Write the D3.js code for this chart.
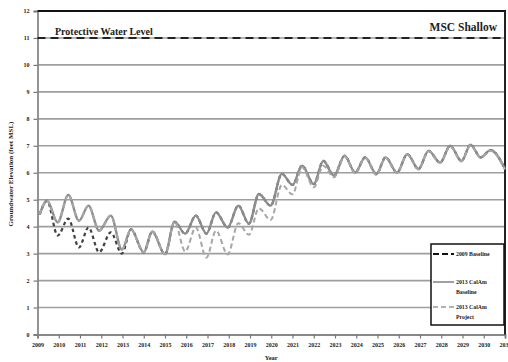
<!DOCTYPE html>
<html>
<head>
<meta charset="utf-8">
<script src="https://cdn.jsdelivr.net/npm/d3@7"></script>
<style>
  body { margin: 0; background: #fff; }
  svg text { font-family: "Liberation Serif", "DejaVu Serif", serif; font-weight: bold; fill: #222; }
</style>
</head>
<body>
<svg id="chart" width="508" height="362"></svg>
<script>
// turning points (year, seasonal high / low)
const years = [
  2009.1, 2009.45, 2009.95, 2010.45, 2010.95, 2011.4, 2011.9, 2012.45, 2012.97, 2013.4,
  2014.0, 2014.4, 2015.0, 2015.45, 2015.95, 2016.45, 2016.95, 2017.4, 2017.95, 2018.45,
  2018.95, 2019.42, 2019.97, 2020.5, 2021.0, 2021.45, 2022.0, 2022.45, 2022.95, 2023.45,
  2023.95, 2024.42, 2024.95, 2025.38, 2025.92, 2026.4, 2026.93, 2027.4, 2027.95, 2028.42,
  2028.95, 2029.38, 2029.85, 2030.32, 2031.0
];

const calAmBaseline = [
  4.45, 4.96, 4.16, 5.18, 4.22, 4.78, 3.85, 4.41, 3.15, 3.9,
  3.05, 3.82, 2.98, 4.18, 3.74, 4.41, 3.74, 4.53, 3.97, 4.78,
  4.11, 5.21, 4.78, 5.96, 5.55, 6.26, 5.58, 6.44, 5.89, 6.63,
  6.01, 6.57, 5.95, 6.57, 6.01, 6.69, 6.14, 6.81, 6.38, 7.0,
  6.44, 7.04, 6.57, 6.84, 6.14
];

const baseline2009 = [
  4.45, 4.96, 3.67, 4.3, 3.23, 3.97, 3.05, 3.79, 3.0, 3.9,
  3.05, 3.82, 2.98, 4.18, 3.74, 4.41, 3.74, 4.53, 3.97, 4.78,
  4.11, 5.21, 4.78, 5.96, 5.55, 6.26, 5.58, 6.44, 5.89, 6.63,
  6.01, 6.57, 5.95, 6.57, 6.01, 6.69, 6.14, 6.81, 6.38, 7.0,
  6.44, 7.04, 6.57, 6.84, 6.14
];

const calAmProject = [
  4.45, 4.96, 4.16, 5.18, 4.22, 4.78, 3.85, 4.41, 3.15, 3.9,
  3.05, 3.82, 2.98, 4.18, 3.08, 3.97, 2.85, 3.85, 2.97, 4.13,
  3.7, 4.68, 4.25, 5.55, 5.2, 6.2, 5.46, 6.26, 5.83, 6.6,
  5.98, 6.55, 5.92, 6.55, 6.0, 6.67, 6.12, 6.8, 6.36, 6.98,
  6.42, 7.02, 6.55, 6.82, 6.12
];

const xTicks = d3.range(2009, 2032);
const yTicks = d3.range(0, 13);
const protectiveLevel = 11;

// drawn bottom to top: the grey CalAm lines sit over the 2009 line where they coincide
const series = [
  { name: "baseline-2009", values: baseline2009, color: "#404040", width: 2.2, dash: "3.5,3" },
  { name: "calam-baseline", values: calAmBaseline, color: "#8c8c8c", width: 2.4, dash: null },
  { name: "calam-project", values: calAmProject, color: "#a6a6a6", width: 2, dash: "5,3" },
];

const svg = d3.select("#chart");
const plotLeft = 37.5, plotRight = 505, plotTop = 11, plotBottom = 334.5;

const x = d3.scaleLinear().domain([2009, 2031]).range([plotLeft, plotRight]);
const y = d3.scaleLinear().domain([0, 12]).range([plotBottom, plotTop]);

// gridlines
svg.append("g")
  .selectAll("line")
  .data(yTicks.filter((d) => d > 0 && d < 12))
  .join("line")
  .attr("x1", plotLeft)
  .attr("x2", plotRight)
  .attr("y1", (d) => y(d))
  .attr("y2", (d) => y(d))
  .attr("stroke", "#9e9e9e")
  .attr("stroke-width", 1.6);

// axes
const xAxis = svg.append("g")
  .attr("transform", `translate(0,${plotBottom})`)
  .call(d3.axisBottom(x).tickValues(xTicks).tickFormat(d3.format("d")).tickSize(4).tickPadding(4));
const yAxis = svg.append("g")
  .attr("transform", `translate(${plotLeft},0)`)
  .call(d3.axisLeft(y).tickValues(yTicks).tickSize(4).tickPadding(4));

[xAxis, yAxis].forEach((g) => {
  g.select(".domain").attr("stroke", "#888").attr("stroke-width", 1.8);
  g.selectAll(".tick line").attr("stroke", "#777").attr("stroke-width", 1.2);
  g.selectAll(".tick text")
    .attr("font-family", "Liberation Serif")
    .attr("font-weight", "bold")
    .attr("font-size", 6)
    .attr("fill", "#444");
});

// frame: top and right in black
svg.append("line")
  .attr("x1", plotLeft).attr("x2", plotRight + 1)
  .attr("y1", plotTop).attr("y2", plotTop)
  .attr("stroke", "#111").attr("stroke-width", 2);
svg.append("line")
  .attr("x1", plotRight).attr("x2", plotRight)
  .attr("y1", plotTop).attr("y2", plotBottom)
  .attr("stroke", "#222").attr("stroke-width", 2);

// protective water level
svg.append("line")
  .attr("x1", plotLeft).attr("x2", plotRight)
  .attr("y1", y(protectiveLevel)).attr("y2", y(protectiveLevel))
  .attr("stroke", "#222").attr("stroke-width", 2)
  .attr("stroke-dasharray", "8,5");

svg.append("text")
  .attr("x", 55)
  .attr("y", 35)
  .attr("font-size", 10)
  .attr("fill", "#333")
  .text("Protective Water Level");

svg.append("text")
  .attr("x", 497)
  .attr("y", 31)
  .attr("text-anchor", "end")
  .attr("font-size", 11.5)
  .attr("fill", "#333")
  .text("MSC Shallow");

// series
const line = d3.line()
  .x((d, i) => x(years[i]))
  .y((d) => y(d))
  .curve(d3.curveMonotoneX);

svg.append("g")
  .selectAll("path")
  .data(series)
  .join("path")
  .attr("class", (d) => d.name)
  .attr("d", (d) => line(d.values))
  .attr("fill", "none")
  .attr("stroke", (d) => d.color)
  .attr("stroke-width", (d) => d.width)
  .attr("stroke-dasharray", (d) => d.dash);

// axis titles
svg.append("text")
  .attr("transform", "translate(13,174) rotate(-90)")
  .attr("text-anchor", "middle")
  .attr("font-size", 7)
  .attr("fill", "#333")
  .text("Groundwater Elevation (feet MSL)");

svg.append("text")
  .attr("x", (plotLeft + plotRight) / 2)
  .attr("y", 360)
  .attr("text-anchor", "middle")
  .attr("font-size", 6.5)
  .attr("fill", "#333")
  .text("Year");

// legend
const legend = svg.append("g");
legend.append("rect")
  .attr("x", 431).attr("y", 244)
  .attr("width", 73).attr("height", 81)
  .attr("fill", "#fff")
  .attr("stroke", "#111")
  .attr("stroke-width", 1.5);

const legendItems = [
  { label: ["2009 Baseline"], color: "#111", width: 2, dash: "6,3", ly: 254 },
  { label: ["2013 CalAm", "Baseline"], color: "#888", width: 1.6, dash: null, ly: 282 },
  { label: ["2013 CalAm", "Project"], color: "#999", width: 1.6, dash: "5,3", ly: 307 },
];

legendItems.forEach((d) => {
  legend.append("line")
    .attr("x1", 433).attr("x2", 454)
    .attr("y1", d.ly).attr("y2", d.ly)
    .attr("stroke", d.color)
    .attr("stroke-width", d.width)
    .attr("stroke-dasharray", d.dash);
  d.label.forEach((t, i) => {
    legend.append("text")
      .attr("x", 456)
      .attr("y", d.ly + 2 + i * 10)
      .attr("font-size", 5.8)
      .attr("fill", "#333")
      .text(t);
  });
});
</script>
</body>
</html>
